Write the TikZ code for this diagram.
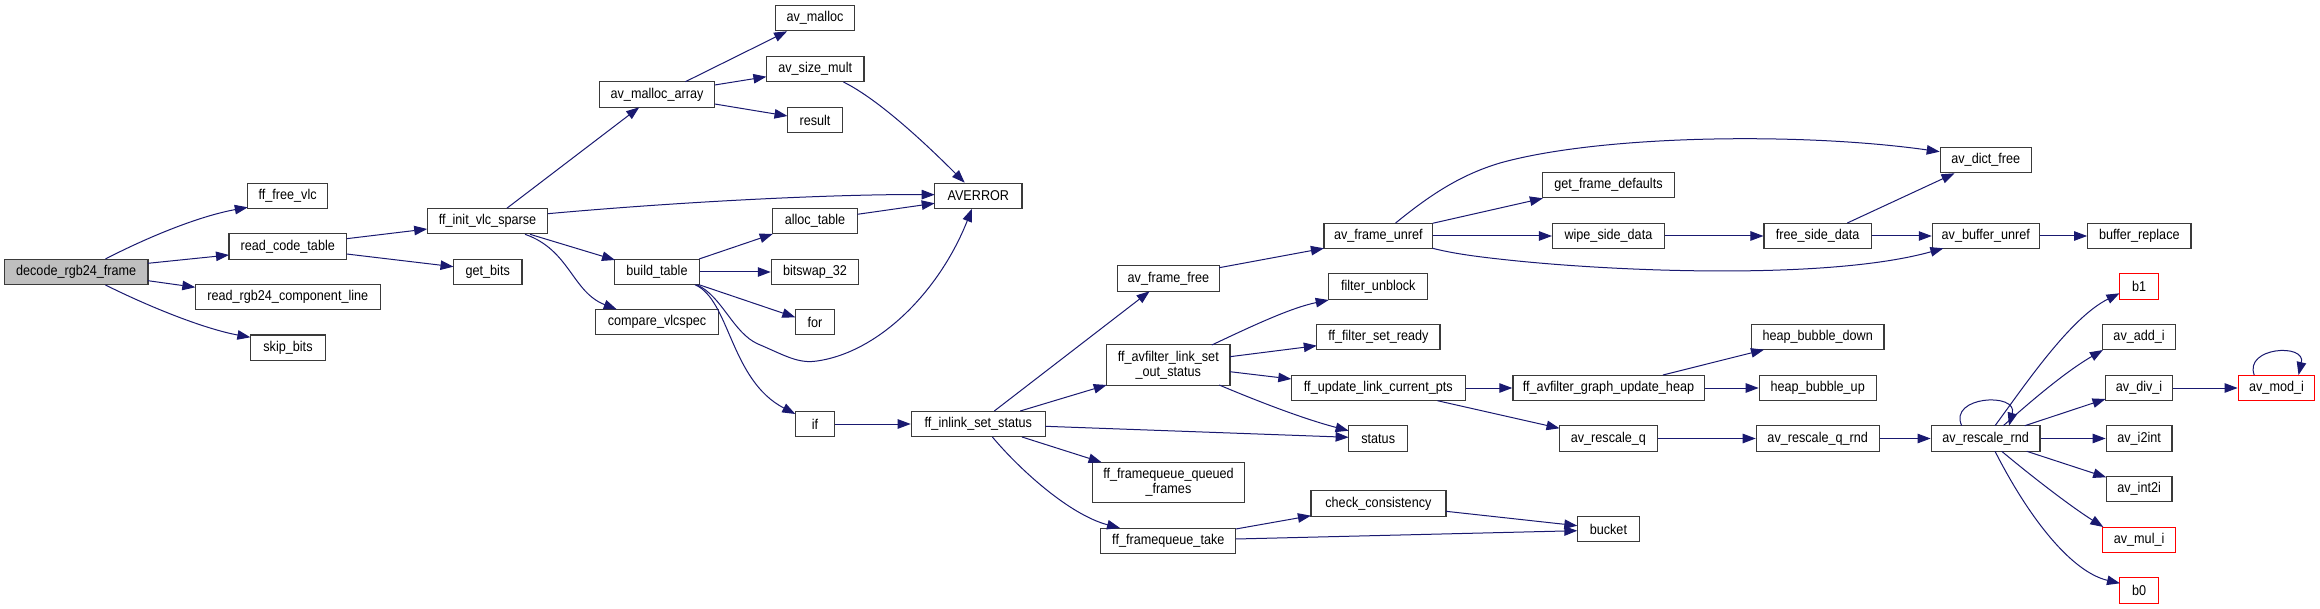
\documentclass[tikz,border=0pt]{standalone}
\usepackage{fontspec}
\setmainfont{Liberation Sans}[FakeStretch=0.89]
\usetikzlibrary{arrows.meta}
\definecolor{edgec}{HTML}{191970}
\definecolor{boxc}{HTML}{3A3A3A}
\definecolor{rootfill}{HTML}{BFBFBF}
\begin{document}
\begin{tikzpicture}[x=1pt,y=-1pt,
  fn/.style={draw=boxc, line width=1.2pt, fill=white, rectangle, minimum height=25.7pt, inner sep=0pt, font=\fontsize{14.2}{15.3}\selectfont, text=black},
  rootfn/.style={fn, fill=rootfill},
  redfn/.style={fn, draw=red},
  twoline/.style={minimum height=40.5pt, align=center},
  e/.style={draw=edgec, line width=1pt, -{Triangle[length=13pt,width=9.5pt]}},
]
\fill[white] (0,0) rectangle (2320,609);
\useasboundingbox (0,0) rectangle (2320,609);

% nodes
\node[rootfn, minimum width=143.6pt] (root) at (76.2,272) {decode\_rgb24\_frame};
\node[fn, minimum width=79.6pt] (ffree) at (287.6,196) {ff\_free\_vlc};
\node[fn, minimum width=117.6pt] (rct) at (287.8,246.5) {read\_code\_table};
\node[fn, minimum width=185pt] (rrgb) at (287.8,297) {read\_rgb24\_component\_line};
\node[fn, minimum width=75pt] (skip) at (288,347.8) {skip\_bits};
\node[fn, minimum width=120.6pt] (fivs) at (487.5,221) {ff\_init\_vlc\_sparse};
\node[fn, minimum width=68.4pt] (gbits) at (487.7,272) {get\_bits};
\node[fn, minimum width=115.4pt] (mallarr) at (657,94.5) {av\_malloc\_array};
\node[fn, minimum width=84.3pt] (build) at (657,272) {build\_table};
\node[fn, minimum width=123pt] (cmp) at (657,322) {compare\_vlcspec};
\node[fn, minimum width=79.5pt] (mall) at (815,18) {av\_malloc};
\node[fn, minimum width=97.6pt] (asm) at (815.2,69) {av\_size\_mult};
\node[fn, minimum width=55pt] (res) at (815,120) {result};
\node[fn, minimum width=84.7pt] (alloc) at (815,221) {alloc\_table};
\node[fn, minimum width=87.3pt] (bsw) at (815,272) {bitswap\_32};
\node[fn, minimum width=39.6pt] (for) at (815,322) {for};
\node[fn, minimum width=39.6pt] (if) at (815,424) {if};
\node[fn, minimum width=87.3pt] (averr) at (978.3,196) {AVERROR};
\node[fn, minimum width=134pt] (fis) at (978.3,424) {ff\_inlink\_set\_status};
\node[fn, minimum width=101.7pt] (aff) at (1168.4,278.5) {av\_frame\_free};
\node[fn, twoline, minimum width=123.2pt] (aflso) at (1168.3,365) {ff\_avfilter\_link\_set\\\_out\_status};
\node[fn, twoline, minimum width=151.6pt] (fqqf) at (1168.5,482.5) {ff\_framequeue\_queued\\\_frames};
\node[fn, minimum width=135pt] (fqt) at (1168.3,541) {ff\_framequeue\_take};
\node[fn, minimum width=108.7pt] (afu) at (1378.3,236) {av\_frame\_unref};
\node[fn, minimum width=99.1pt] (fub) at (1378.3,286.5) {filter\_unblock};
\node[fn, minimum width=123.2pt] (ffsr) at (1378.4,337) {ff\_filter\_set\_ready};
\node[fn, minimum width=173.9pt] (fulcp) at (1378.3,388) {ff\_update\_link\_current\_pts};
\node[fn, minimum width=59.2pt] (status) at (1378.2,438.5) {status};
\node[fn, minimum width=135pt] (cc) at (1378.4,503.5) {check\_consistency};
\node[fn, minimum width=131.3pt] (gfd) at (1608.5,185) {get\_frame\_defaults};
\node[fn, minimum width=111.7pt] (wsd) at (1608.4,236) {wipe\_side\_data};
\node[fn, minimum width=191.2pt] (fagu) at (1608.5,388) {ff\_avfilter\_graph\_update\_heap};
\node[fn, minimum width=97.7pt] (arq) at (1608.4,438.5) {av\_rescale\_q};
\node[fn, minimum width=62.1pt] (bucket) at (1608.4,529) {bucket};
\node[fn, minimum width=107.3pt] (fsd) at (1817.7,236) {free\_side\_data};
\node[fn, minimum width=132.4pt] (hbd) at (1817.7,337) {heap\_bubble\_down};
\node[fn, minimum width=116.9pt] (hbu) at (1817.7,388) {heap\_bubble\_up};
\node[fn, minimum width=122.8pt] (arqr) at (1817.7,438.5) {av\_rescale\_q\_rnd};
\node[fn, minimum width=91.4pt] (adf) at (1985.8,160) {av\_dict\_free};
\node[fn, minimum width=106.9pt] (abu) at (1985.8,236) {av\_buffer\_unref};
\node[fn, minimum width=108.8pt] (arr) at (1985.6,438.5) {av\_rescale\_rnd};
\node[fn, minimum width=103.2pt] (bre) at (2139.3,236) {buffer\_replace};
\node[redfn, minimum width=39.2pt] (b1) at (2139.1,286.5) {b1};
\node[fn, minimum width=72.5pt] (aai) at (2139.1,337) {av\_add\_i};
\node[fn, minimum width=67.3pt] (adi) at (2139.1,388) {av\_div\_i};
\node[fn, minimum width=65.8pt] (ai2) at (2139.1,438.5) {av\_i2int};
\node[fn, minimum width=65.8pt] (aint) at (2139.1,489) {av\_int2i};
\node[redfn, minimum width=72.5pt] (amul) at (2139.1,540) {av\_mul\_i};
\node[redfn, minimum width=39.2pt] (b0) at (2139.1,590.5) {b0};
\node[redfn, minimum width=76.6pt] (amod) at (2276.5,388) {av\_mod\_i};

% edges
\draw[e] ([shift={(29.2,-13)}]root.center) .. controls (150,236) and (200,216) .. ([shift={(-39.8,11.3)}]ffree.center);
\draw[e] ([shift={(71.8,-8.7)}]root.center) -- ([shift={(-58.8,8.5)}]rct.center);
\draw[e] ([shift={(71.8,8.7)}]root.center) -- ([shift={(-92.5,-9.7)}]rrgb.center);
\draw[e] ([shift={(29.2,13)}]root.center) .. controls (160,312) and (210,330) .. ([shift={(-37.6,-10.5)}]skip.center);
\draw[e] ([shift={(58.8,-7.8)}]rct.center) -- ([shift={(-60.3,8)}]fivs.center);
\draw[e] ([shift={(58.8,7.5)}]rct.center) -- ([shift={(-34.2,-5.3)}]gbits.center);
\draw[e] ([shift={(19.3,-12.7)}]fivs.center) -- ([shift={(-17.8,12.8)}]mallarr.center);
\draw[e] ([shift={(60.3,-7.3)}]fivs.center) .. controls (700,200) and (850,194) .. ([shift={(-43.6,-1.3)}]averr.center);
\draw[e] ([shift={(42.5,13.3)}]fivs.center) -- ([shift={(-42,-12)}]build.center);
\draw[e] ([shift={(37.5,13.3)}]fivs.center) .. controls (570,250) and (572,292) .. ([shift={(-40.3,-12.7)}]cmp.center);
\draw[e] ([shift={(28.4,-12.8)}]mallarr.center) -- ([shift={(-27.9,13.3)}]mall.center);
\draw[e] ([shift={(57.7,-9.5)}]mallarr.center) -- ([shift={(-48.8,7.7)}]asm.center);
\draw[e] ([shift={(57.7,9.5)}]mallarr.center) -- ([shift={(-27.5,-4)}]res.center);
\draw[e] ([shift={(28.2,13)}]asm.center) .. controls (880,100) and (930,148) .. ([shift={(-13.6,-13.3)}]averr.center);
\draw[e] ([shift={(42.4,-6.7)}]alloc.center) -- ([shift={(-43.6,7.3)}]averr.center);
\draw[e] ([shift={(42.1,-13)}]build.center) -- ([shift={(-42.3,13)}]alloc.center);
\draw[e] (build.east) -- (bsw.west);
\draw[e] ([shift={(42,12.7)}]build.center) -- ([shift={(-19.7,-4.7)}]for.center);
\draw[e] ([shift={(39.7,12.7)}]build.center) .. controls (722,296) and (733,333) .. (758,344) .. controls (784,355) and (798,364) .. (817,361) .. controls (880,352) and (940,290) .. ([shift={(-6.3,12.7)}]averr.center);
\draw[e] ([shift={(38,12.7)}]build.center) .. controls (730,300) and (730,380) .. ([shift={(-19.7,-10)}]if.center);
\draw[e] (if.east) -- (fis.west);
\draw[e] ([shift={(16,-13)}]fis.center) -- ([shift={(-18.8,12.8)}]aff.center);
\draw[e] ([shift={(41.9,-13)}]fis.center) -- ([shift={(-61.6,20)}]aflso.center);
\draw[e] ([shift={(67,2.3)}]fis.center) -- ([shift={(-29.6,-1.2)}]status.center);
\draw[e] ([shift={(43.7,13)}]fis.center) -- ([shift={(-66.9,-20.2)}]fqqf.center);
\draw[e] ([shift={(14.1,13)}]fis.center) .. controls (1020,470) and (1070,515) .. ([shift={(-48.3,-13)}]fqt.center);
\draw[e] ([shift={(50.8,-10.8)}]aff.center) -- ([shift={(-54.4,12.3)}]afu.center);
\draw[e] ([shift={(17.3,-13)}]afu.center) .. controls (1430,195) and (1460,175) .. (1500,163) .. controls (1600,135) and (1800,132) .. ([shift={(-46.1,-8.3)}]adf.center);
\draw[e] ([shift={(54.3,-12.7)}]afu.center) -- ([shift={(-65.6,13.3)}]gfd.center);
\draw[e] (afu.east) -- (wsd.west);
\draw[e] ([shift={(54.3,12.3)}]afu.center) .. controls (1455,254) and (1480,257) .. (1508,260) .. controls (1620,272) and (1830,280) .. ([shift={(-42.4,12.3)}]abu.center);
\draw[e] (wsd.east) -- (fsd.west);
\draw[e] ([shift={(29.6,-13)}]fsd.center) -- ([shift={(-31.3,13.3)}]adf.center);
\draw[e] (fsd.east) -- (abu.west);
\draw[e] (abu.east) -- (bre.west);
\draw[e] ([shift={(43.5,-20)}]aflso.center) .. controls (1250,327) and (1290,308) .. ([shift={(-49.6,13.5)}]fub.center);
\draw[e] ([shift={(61.6,-8.3)}]aflso.center) -- ([shift={(-61.6,8.7)}]ffsr.center);
\draw[e] ([shift={(61.6,6.7)}]aflso.center) -- ([shift={(-87,-9)}]fulcp.center);
\draw[e] ([shift={(50.9,20)}]aflso.center) .. controls (1250,398) and (1300,418) .. ([shift={(-29.6,-7.8)}]status.center);
\draw[e] (fulcp.east) -- (fagu.west);
\draw[e] ([shift={(59.1,12.7)}]fulcp.center) -- ([shift={(-48.9,-10.2)}]arq.center);
\draw[e] ([shift={(54.5,-13)}]fagu.center) -- ([shift={(-53.7,12.7)}]hbd.center);
\draw[e] (fagu.east) -- (hbu.west);
\draw[e] (arq.east) -- (arqr.west);
\draw[e] (arqr.east) -- (arr.west);
\draw[e] ([shift={(-23.9,-12.8)}]arr.center) .. controls (1948,396) and (2018,392) .. ([shift={(23.4,-12.8)}]arr.center);
\draw[e] ([shift={(9.4,-12.8)}]arr.center) .. controls (2025,385) and (2070,318) .. ([shift={(-19.6,6.8)}]b1.center);
\draw[e] ([shift={(17.7,-12.8)}]arr.center) .. controls (2030,402) and (2065,372) .. ([shift={(-36.2,13)}]aai.center);
\draw[e] ([shift={(39.2,-12.8)}]arr.center) -- ([shift={(-33.6,11)}]adi.center);
\draw[e] (arr.east) -- (ai2.west);
\draw[e] ([shift={(41.1,12.8)}]arr.center) -- ([shift={(-32.9,-11.7)}]aint.center);
\draw[e] ([shift={(16.1,12.8)}]arr.center) .. controls (2030,475) and (2070,506) .. ([shift={(-35.8,-13)}]amul.center);
\draw[e] ([shift={(9.4,12.8)}]arr.center) .. controls (2030,520) and (2072,572) .. ([shift={(-19.1,-7.2)}]b0.center);
\draw[e] (adi.east) -- (amod.west);
\draw[e] ([shift={(-22.3,-13)}]amod.center) .. controls (2244,347) and (2306,343) .. ([shift={(22,-13)}]amod.center);
\draw[e] ([shift={(67.5,-12)}]fqt.center) -- ([shift={(-67.5,12.2)}]cc.center);
\draw[e] ([shift={(67.5,-2)}]fqt.center) -- ([shift={(-31.1,1.7)}]bucket.center);
\draw[e] ([shift={(67.5,7.8)}]cc.center) -- ([shift={(-31.1,-3.3)}]bucket.center);
\end{tikzpicture}
\end{document}
